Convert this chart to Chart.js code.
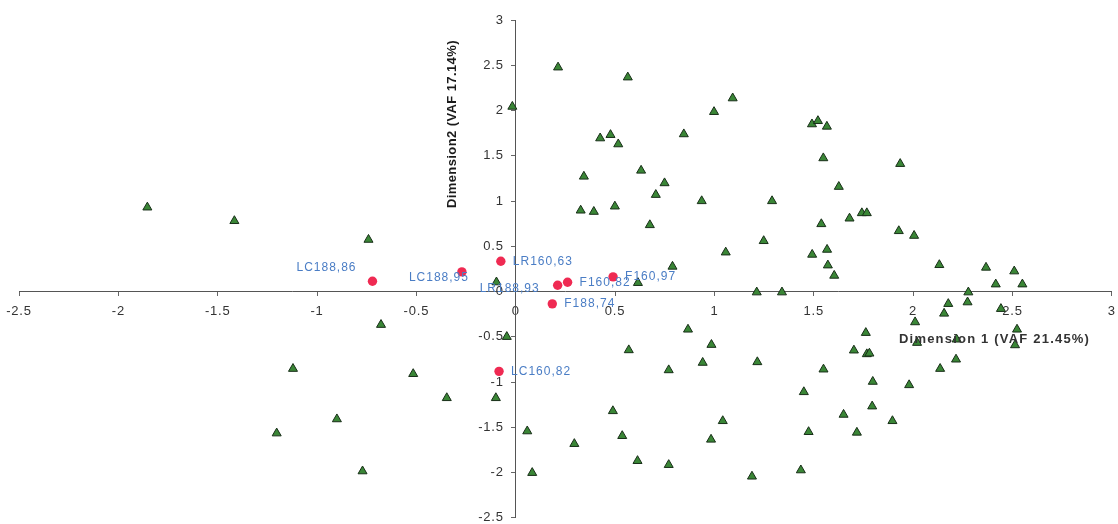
<!DOCTYPE html>
<html>
<head>
<meta charset="utf-8">
<script src="https://cdn.jsdelivr.net/npm/chart.js@4"></script>
<style>
  html, body { margin: 0; padding: 0; background: #ffffff; }
  #wrap { width: 1118px; height: 524px; position: relative; }
</style>
</head>
<body>
<div id="wrap"><canvas id="map"></canvas></div>
<script>
// Tick values shown on both axes
const xTickValues = [-2.5, -2, -1.5, -1, -0.5, 0, 0.5, 1, 1.5, 2, 2.5, 3];
const yTickValues = [-2.5, -2, -1.5, -1, -0.5, 0, 0.5, 1, 1.5, 2, 2.5, 3];

// Attribute coordinates (triangles)
const itemDim1 = [-1.854, -1.416, -0.741, -0.678, -1.121, -0.516, -0.347, -0.100, -0.900, -1.203,
  -0.771, -0.097, -0.045, 0.058, 0.083, 0.295, 0.489, 0.536, 0.613, 0.569,
  0.770, 0.770, 0.867, 0.941, 0.985, 0.983, 1.042, 1.216, 1.189, 0.615,
  1.213, 1.340, 1.450, 1.474, 1.435, 1.549, 1.650, 1.717, 1.702, 1.762,
  1.767, 1.780, 1.797, 1.794, 1.896, 1.980, 2.010, 2.020, 2.136, 2.216,
  2.156, 2.177, 2.274, 2.278, 2.219, 2.416, 2.550, 2.442, 2.523, 2.513,
  1.491, 1.521, 1.566, 1.548, 1.935, 1.626, 1.680, 1.742, 1.767, 1.538,
  1.928, 2.005, 1.492, 1.567, 1.571, 1.603, 2.132, 2.367, 2.509, -0.017,
  0.213, 0.564, 1.092, 0.998, 0.846, 0.425, 0.477, 0.516, 0.343, 0.631,
  0.749, 0.705, 0.327, 0.393, 0.499, 0.936, 1.290, 0.675, 1.248, 1.057,
  0.789];
const itemDim2 = [0.930, 0.780, 0.573, -0.367, -0.853, -0.910, -1.176, -1.176, -1.410, -1.566,
  -1.985, 0.103, -0.500, -1.543, -2.003, -1.683, -1.320, -1.595, -1.871, -0.647,
  -0.868, -1.915, -0.419, -0.786, -0.588, -1.635, -1.430, -0.779, -2.043, 0.096,
  -0.008, -0.008, -1.110, -1.551, -1.974, -0.860, -1.360, -1.558, -0.650, -0.456,
  -0.691, -0.684, -0.996, -1.268, -1.430, -1.033, -0.338, -0.566, -0.853, -0.750,
  -0.243, -0.136, -0.118, -0.008, -0.529, 0.080, 0.080, -0.191, -0.419, -0.592,
  1.849, 1.885, 1.823, 1.474, 1.411, 1.158, 0.808, 0.867, 0.867, 0.746,
  0.669, 0.617, 0.408, 0.463, 0.290, 0.176, 0.294, 0.265, 0.224, 2.043,
  2.477, 2.367, 2.136, 1.985, 1.739, 1.694, 1.731, 1.628, 1.271, 1.337,
  1.198, 1.069, 0.896, 0.882, 0.941, 1.000, 1.000, 0.735, 0.559, 0.433,
  0.276];

// Sample coordinates (red dots) and their names
const sampleNames = ['LC188,86', 'LC188,95', 'LR160,63', 'LR188,93', 'F160,82', 'F160,97', 'F188,74', 'LC160,82'];
const sampleDim1 = [-0.721, -0.271, -0.075, 0.211, 0.261, 0.490, 0.184, -0.084];
const sampleDim2 = [0.114, 0.217, 0.334, 0.069, 0.103, 0.162, -0.136, -0.882];

// Axis titles
const xTitle = 'Dimension 1 (VAF 21.45%)';
const yTitle = 'Dimension2 (VAF 17.14%)';

// Where each sample name sits relative to its dot (px: left edge, vertical middle)
const labelOffset = {
  'LC188,86': [-76, -14],
  'LC188,95': [-53, 6],
  'LR188,93': [-78, 3]
};
const defaultOffset = [12, 0];

const FONT = '"Liberation Sans", Arial, sans-serif';
const Y_LABEL_GAP = 12; // tick mark + padding between the vertical axis and its numbers

const items = itemDim1.map((x, i) => ({ x: x, y: itemDim2[i] }));
const samples = sampleDim1.map((x, i) => ({ x: x, y: sampleDim2[i] }));

const overlay = {
  id: 'overlay',
  beforeDraw(chart) {
    chart.ctx.letterSpacing = '0.8px';
    // numbers of the crossing vertical axis sit to the left of the line
    chart.scales.y.getLabelItems().forEach(it => {
      if (!it._moved) {
        it.options.translation[0] -= Y_LABEL_GAP;
        it._moved = true;
      }
    });
  },
  afterDatasetsDraw(chart) {
    const ctx = chart.ctx;
    const xs = chart.scales.x, ys = chart.scales.y;
    ctx.save();
    // sample names
    ctx.font = '12px ' + FONT;
    ctx.letterSpacing = '1px';
    ctx.fillStyle = '#4a7dc5';
    ctx.textAlign = 'left';
    ctx.textBaseline = 'middle';
    sampleNames.forEach((name, i) => {
      const off = labelOffset[name] || defaultOffset;
      const px = xs.getPixelForValue(sampleDim1[i]);
      const py = ys.getPixelForValue(sampleDim2[i]);
      ctx.fillText(name, px + off[0], py + off[1]);
    });
    // x-axis title, beside the axis on the right
    ctx.font = 'bold 13px ' + FONT;
    ctx.letterSpacing = '1.2px';
    ctx.fillStyle = '#333333';
    ctx.textAlign = 'center';
    ctx.fillText(xTitle, xs.getPixelForValue(2.41), ys.getPixelForValue(0) + 48);
    // y-axis title, rotated, left of the upper half of the axis
    ctx.letterSpacing = '0.4px';
    ctx.fillStyle = '#1a1a1a';
    ctx.translate(xs.getPixelForValue(0) - 63, ys.getPixelForValue(1.85));
    ctx.rotate(-Math.PI / 2);
    ctx.fillText(yTitle, 0, 0);
    ctx.restore();
  }
};

function crossAxis(tickValues, crossAt) {
  return {
    type: 'linear',
    min: tickValues[0],
    max: tickValues[tickValues.length - 1],
    position: crossAt,
    grid: { display: true, drawOnChartArea: false, drawTicks: true, tickLength: 4, color: '#666666' },
    border: { display: true, color: '#555555', width: 1 },
    ticks: {
      font: { family: FONT, size: 13 },
      color: '#333333',
      padding: 8,
      callback: v => String(v)
    },
    afterBuildTicks(scale) {
      scale.ticks = tickValues.map(v => ({ value: v }));
    },
    afterFit(scale) {
      if (scale.isHorizontal()) scale.height = 0; else scale.width = 0;
      scale.paddingLeft = scale.paddingRight = scale.paddingTop = scale.paddingBottom = 0;
    }
  };
}

new Chart(document.getElementById('map'), {
  type: 'scatter',
  data: {
    datasets: [
      {
        label: 'Attributes',
        data: items,
        pointStyle: 'triangle',
        pointRadius: 5.2,
        backgroundColor: '#3a8636',
        borderColor: '#182e18',
        borderWidth: 1
      },
      {
        label: 'Samples',
        data: samples,
        pointStyle: 'circle',
        pointRadius: 4.7,
        backgroundColor: '#ef2a52',
        borderColor: '#ef2a52',
        borderWidth: 0
      }
    ]
  },
  options: {
    responsive: true,
    maintainAspectRatio: false,
    animation: false,
    layout: { padding: { left: 19, right: 4, top: 20, bottom: 5 } },
    plugins: { legend: { display: false }, tooltip: { enabled: false } },
    scales: {
      x: crossAxis(xTickValues, { y: 0 }),
      y: crossAxis(yTickValues, { x: 0 })
    }
  },
  plugins: [overlay]
});
</script>
</body>
</html>
